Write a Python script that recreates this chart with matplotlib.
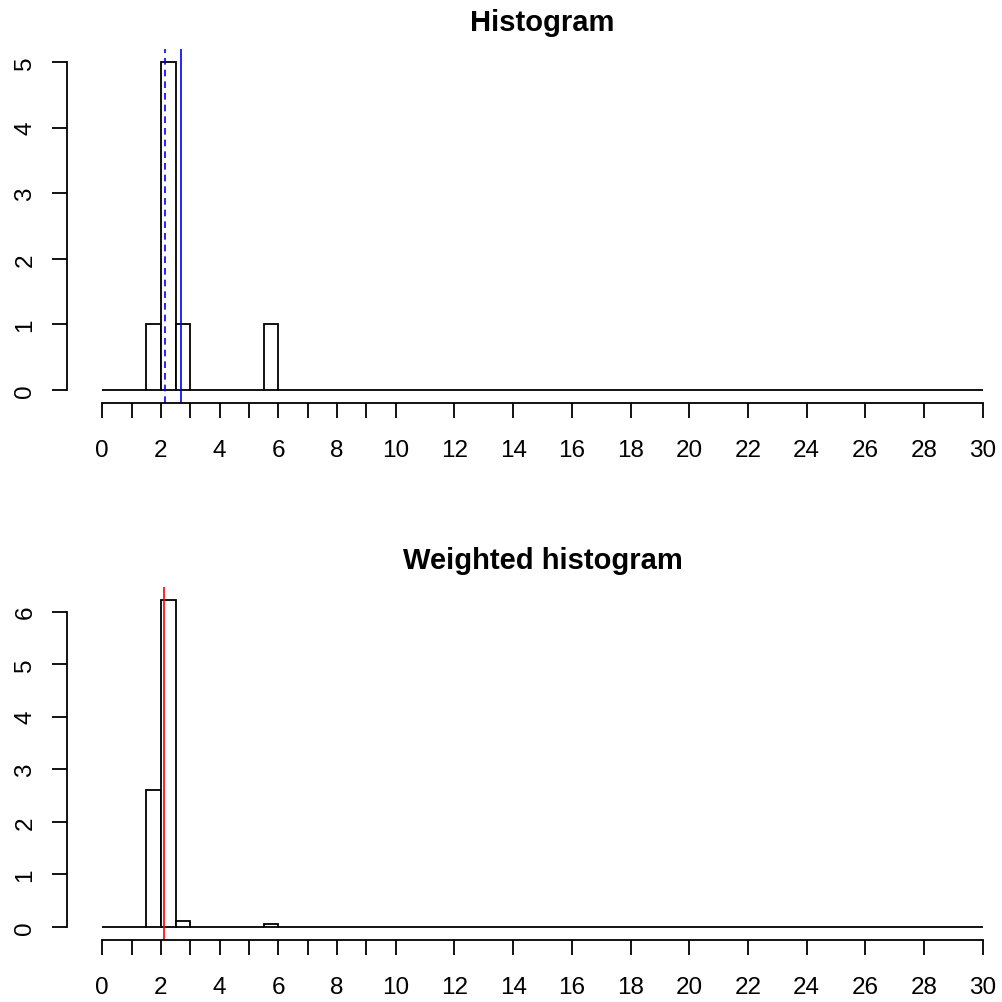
import numpy as np
import matplotlib.pyplot as plt

plt.rcParams['font.family'] = ['Liberation Sans', 'DejaVu Sans']

# histogram bins (width 0.5 from 0 to 30); only non-empty bins listed
bin_width = 0.5
bin_lo, bin_hi = 0, 30
bar_left = [1.5, 2.0, 2.5, 5.5]
counts = [1, 5, 1, 1]
weighted_density = [2.60, 6.22, 0.114, 0.05]

median_x = 2.15
mean_x = 2.685
weighted_mean_x = 2.12

tick_pos = [0, 1, 2, 3, 4, 5, 6, 7, 8, 9, 10, 12, 14, 16, 18, 20, 22, 24, 26, 28, 30]
tick_lab = [str(t) if t % 2 == 0 else "" for t in tick_pos]

W, H = 1002, 1003
fig = plt.figure(figsize=(W / 100, H / 100), dpi=100)


def axes_px(left, right, top, bottom):
    return fig.add_axes([left / W, 1 - bottom / H, (right - left) / W, (bottom - top) / H])


def full_heights(lefts, vals):
    edges = np.arange(bin_lo, bin_hi, bin_width)
    h = np.zeros(len(edges))
    for l, v in zip(lefts, vals):
        h[np.isclose(edges, l)] = v
    return edges, h


def r_style(ax, ymax, yticks, title):
    ax.set_xlim(bin_lo - 0.04 * (bin_hi - bin_lo), bin_hi + 0.04 * (bin_hi - bin_lo))
    ax.set_ylim(-0.04 * ymax, ymax * 1.04)
    for s in ['top', 'right']:
        ax.spines[s].set_visible(False)
    ax.spines['bottom'].set_bounds(bin_lo, bin_hi)
    ax.spines['left'].set_bounds(yticks[0], yticks[-1])
    for s in ['bottom', 'left']:
        ax.spines[s].set_linewidth(1.3)
    ax.set_xticks(tick_pos)
    ax.set_xticklabels(tick_lab)
    ax.set_yticks(yticks)
    ax.set_yticklabels([str(t) for t in yticks], rotation=90, va='center')
    ax.tick_params(axis='both', direction='out', length=11, width=1.3, labelsize=17.5)
    ax.tick_params(axis='x', pad=15)
    ax.tick_params(axis='y', pad=11)
    ax.set_title(title, fontsize=21, fontweight='bold', pad=14)


# top: plain histogram
ax1 = axes_px(67, 1018, 50, 404)
edges, h = full_heights(bar_left, counts)
ax1.bar(edges, h, width=bin_width, align='edge', color='white', edgecolor='black', linewidth=1.3)
ax1.axvline(median_x, color='blue', linestyle=(0, (4, 3)), linewidth=1.2)
ax1.axvline(mean_x, color='blue', linewidth=1.2)
r_style(ax1, max(counts), [0, 1, 2, 3, 4, 5], 'Histogram')

# bottom: weighted histogram
ax2 = axes_px(67, 1018, 588, 941)
edges, h = full_heights(bar_left, weighted_density)
ax2.bar(edges, h, width=bin_width, align='edge', color='white', edgecolor='black', linewidth=1.3)
ax2.axvline(weighted_mean_x, color='red', linewidth=1.2)
r_style(ax2, max(weighted_density), [0, 1, 2, 3, 4, 5, 6], 'Weighted histogram')

fig.savefig('out.png', dpi=100)
